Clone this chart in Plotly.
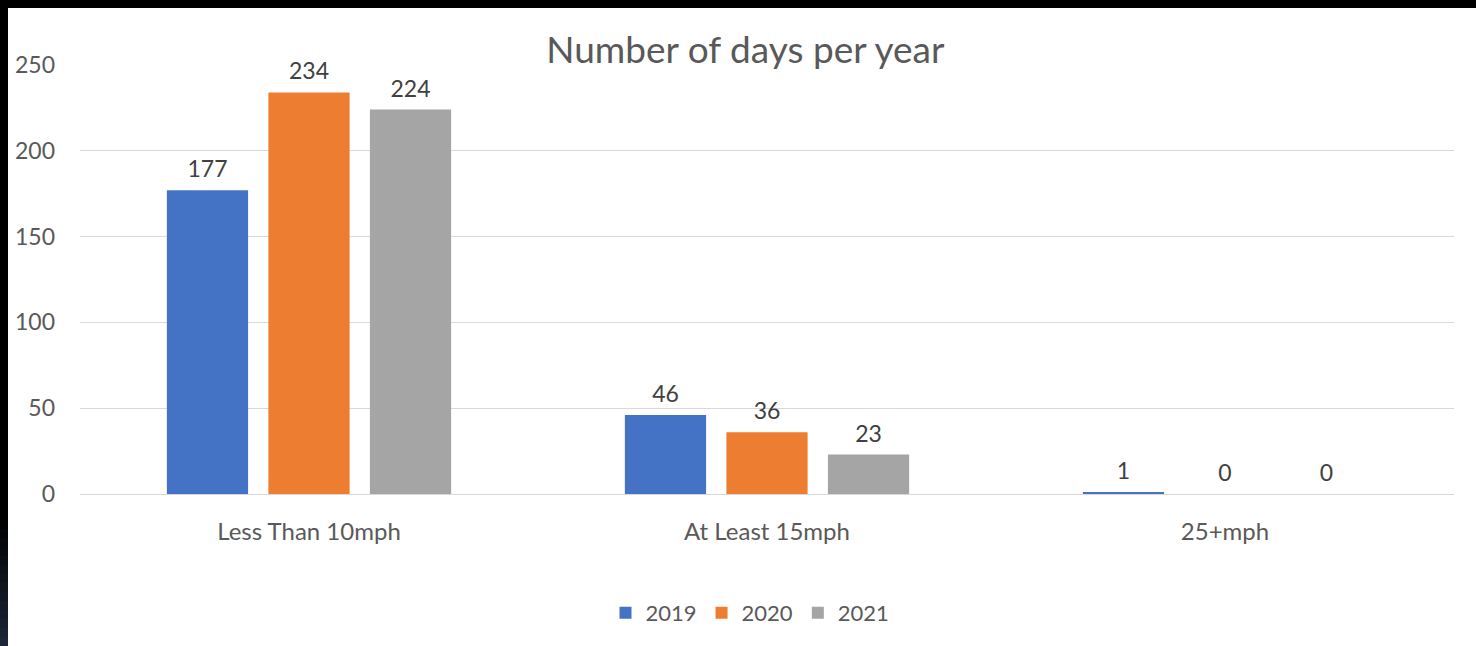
import plotly.graph_objects as go

categories = ["Less Than 10mph", "At Least 15mph", "25+mph"]
years = ["2019", "2020", "2021"]
days_2019 = [177, 46, 1]
days_2020 = [234, 36, 0]
days_2021 = [224, 23, 0]
y_ticks = [0, 50, 100, 150, 200, 250]

colors = ["#4472C4", "#ED7D31", "#A5A5A5"]
font_name = "Lato, Noto Sans, sans-serif"

W, H = 1476, 646
ML, MR, MT, MB = 80, 22, 65, 152
PW, PH = W - ML - MR, H - MT - MB


def px_x(x):
    return (x - ML) / PW


def px_y(y):
    return (H - MB - y) / PH


fig = go.Figure()
series = [days_2019, days_2020, days_2021]
for name, vals, col in zip(years, series, colors):
    fig.add_trace(
        go.Bar(
            x=categories,
            y=vals,
            name=name,
            marker=dict(color=col, line=dict(width=0)),
            hoverinfo="x+y+name",
        )
    )

# value labels, grouped to sit over their bars
for name, vals in zip(years, series):
    fig.add_trace(
        go.Scatter(
            x=categories,
            y=vals,
            mode="markers+text",
            text=vals,
            textposition="top center",
            textfont=dict(size=23, color="#404040", family=font_name),
            marker=dict(size=10, color="rgba(0,0,0,0)"),
            showlegend=False,
            hoverinfo="skip",
            cliponaxis=False,
        )
    )

# dark frame around the white chart (screenshot edge)
shapes = [
    dict(type="rect", xref="paper", yref="paper",
         x0=px_x(0), x1=px_x(W), y0=px_y(8), y1=px_y(0),
         fillcolor="#000000", line_width=0, layer="below"),
    dict(type="rect", xref="paper", yref="paper",
         x0=px_x(0), x1=px_x(8), y0=px_y(H), y1=px_y(0),
         fillcolor="#000000", line_width=0, layer="below"),
]
steps = 14
for i in range(steps):
    t = (i + 1) / steps
    r, g, b = int(0x1c * t), int(0x26 * t), int(0x36 * t)
    y0 = 520 + (H - 520) * i / steps
    y1 = 520 + (H - 520) * (i + 1) / steps
    shapes.append(dict(type="rect", xref="paper", yref="paper",
                       x0=px_x(0), x1=px_x(8), y0=px_y(y1), y1=px_y(y0),
                       fillcolor=f"rgb({r},{g},{b})", line_width=0, layer="below"))

fig.update_layout(
    width=W,
    height=H,
    paper_bgcolor="white",
    plot_bgcolor="white",
    margin=dict(l=ML, r=MR, t=MT, b=MB),
    barmode="group",
    bargap=0.335,
    bargroupgap=0.2,
    scattermode="group",
    scattergap=0.335,
    font=dict(family=font_name, color="#595959"),
    title=dict(
        text="Number of days per year",
        x=0.505,
        xanchor="center",
        y=1 - 50 / H,
        yanchor="middle",
        font=dict(size=37, color="#595959", family=font_name),
    ),
    legend=dict(
        orientation="h",
        x=px_x(750),
        xanchor="center",
        y=px_y(613),
        yanchor="middle",
        font=dict(size=22, color="#595959"),
        itemwidth=30,
        traceorder="normal",
    ),
    shapes=shapes,
    xaxis=dict(
        showgrid=False,
        showline=True,
        linecolor="#d9d9d9",
        linewidth=1,
        ticks="",
        tickfont=dict(size=24, color="#595959"),
        ticklabelstandoff=16,
    ),
    yaxis=dict(
        range=[0, 250],
        tickvals=y_ticks,
        showgrid=True,
        gridcolor="#d9d9d9",
        gridwidth=1,
        zeroline=False,
        showline=False,
        ticks="",
        tickfont=dict(size=23, color="#595959"),
        ticklabelstandoff=24,
    ),
)

fig.write_html(
    "out.html",
    config={"displayModeBar": False},
    post_script="document.body.style.margin='0';document.body.style.overflow='hidden';",
)
